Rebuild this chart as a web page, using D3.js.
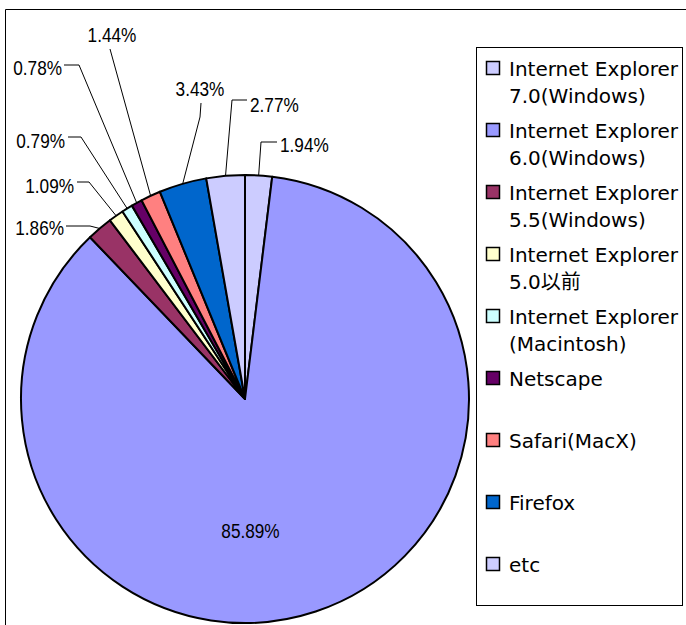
<!DOCTYPE html>
<html><head><meta charset="utf-8">
<script src="https://cdn.jsdelivr.net/npm/d3@7"></script>
<style>body{margin:0;background:#fff}svg{display:block}</style>
</head><body><svg id="c" width="686" height="625"></svg>
<script>
// ---- data ----
const categories = ["Internet Explorer 7.0(Windows)","Internet Explorer 6.0(Windows)","Internet Explorer 5.5(Windows)","Internet Explorer 5.0以前","Internet Explorer (Macintosh)","Netscape","Safari(MacX)","Firefox","etc"];
const legendLines = [["Internet Explorer","7.0(Windows)"],["Internet Explorer","6.0(Windows)"],["Internet Explorer","5.5(Windows)"],["Internet Explorer","5.0以前"],["Internet Explorer","(Macintosh)"],["Netscape"],["Safari(MacX)"],["Firefox"],["etc"]];
const values = [1.94,85.89,1.86,1.09,0.79,0.78,1.44,3.43,2.77];
const valueLabels = ["1.94%","85.89%","1.86%","1.09%","0.79%","0.78%","1.44%","3.43%","2.77%"];
const colors = ["#CCCCFF","#9999FF","#993366","#FFFFCC","#CCFFFF","#660066","#FF8080","#0066CC","#CCCCFF"];

// ---- layout ----
const W=686,H=625, cx=245, cy=399, R=224;
// label placement: text position/anchor and leader-line elbow points (null = no leader)
const labelLayout = [
  {x:280,y:152,a:"start", pts:[[277,142],[261,142]]},
  {x:250.5,y:538,a:"middle", pts:null},
  {x:64,y:235,a:"end", pts:[[66,226],[90,226]]},
  {x:74,y:193,a:"end", pts:[[77,182],[89,182]]},
  {x:65,y:148,a:"end", pts:[[68,137],[81,137]]},
  {x:62,y:75,a:"end", pts:[[64,65],[79,65]]},
  {x:112,y:42,a:"middle", pts:[[110,49]]},
  {x:200,y:96,a:"middle", pts:[[201,103],[200,117]]},
  {x:250,y:112,a:"start", pts:[[247,100],[232,100]]}
];

const svg=d3.select("#c");
// frame
svg.append("path").attr("d",`M5.5,${H}V9.5H${W}`).attr("fill","none").attr("stroke","#000").attr("stroke-width",1);

const pie=d3.pie().sort(null).value(d=>d);
const arcs=pie(values);
const arc=d3.arc().innerRadius(0).outerRadius(R);
const edge=d3.arc().innerRadius(R).outerRadius(R);
const g=svg.append("g").attr("transform",`translate(${cx},${cy})`);
g.selectAll("path").data(arcs).join("path")
  .attr("d",arc).attr("fill",(d,i)=>colors[i])
  .attr("stroke","#000").attr("stroke-width",2).attr("stroke-linejoin","round");

// leader lines + value labels (condensed look)
const lf="'Liberation Sans',Arial,sans-serif";
arcs.forEach((d,i)=>{
  const L=labelLayout[i];
  if(L.pts){
    const c=edge.centroid(d);
    const pts=L.pts.concat([[c[0]+cx,c[1]+cy]]);
    svg.append("path").attr("d",d3.line()(pts)).attr("fill","none").attr("stroke","#000").attr("stroke-width",1);
  }
  const t=svg.append("text").attr("x",L.x).attr("y",L.y).attr("text-anchor",L.a)
    .attr("font-family",lf).attr("font-size",20).attr("fill","#000").text(valueLabels[i]);
  const w=t.node().getComputedTextLength();
  t.attr("textLength",w*0.86).attr("lengthAdjust","spacingAndGlyphs");
});

// legend
svg.append("rect").attr("x",476.5).attr("y",47.5).attr("width",206).attr("height",558)
  .attr("fill","#fff").attr("stroke","#000").attr("stroke-width",1);
const lg=svg.append("g").attr("font-family","'DejaVu Sans','Noto Sans CJK JP',sans-serif").attr("font-size",20);
legendLines.forEach((lines,i)=>{
  const base=76+62*i;
  lg.append("rect").attr("x",486.5).attr("y",base-14.5).attr("width",13).attr("height",13)
    .attr("fill",colors[i]).attr("stroke","#000").attr("stroke-width",1.5);
  lines.forEach((t,j)=>{
    lg.append("text").attr("x",509).attr("y",base+27*j).attr("fill","#000").text(t);
  });
});
</script></body></html>
